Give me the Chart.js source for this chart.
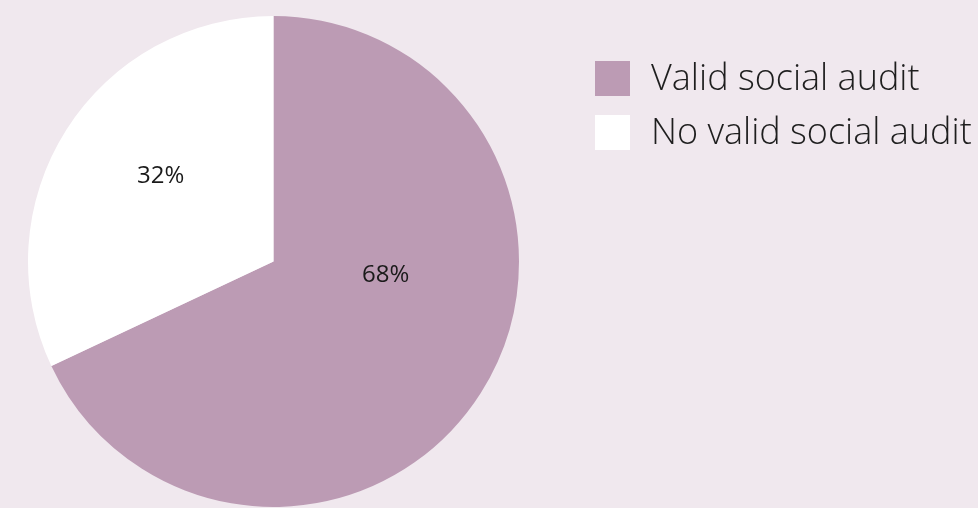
<!DOCTYPE html>
<html>
<head>
<meta charset="utf-8">
<script src="https://cdn.jsdelivr.net/npm/chart.js@4.4.0/dist/chart.umd.min.js"></script>
<style>
  html, body { margin: 0; padding: 0; background: #f0e8ee; }
  #wrap { position: relative; width: 978px; height: 508px; }
</style>
</head>
<body>
<div id="wrap"><canvas id="auditChart" width="978" height="508"></canvas></div>
<script>
const categories = ['Valid social audit', 'No valid social audit'];
const shares = [68, 32];
const sliceColors = ['#bc9bb4', '#ffffff'];

// where each percentage sits: angle (deg, clockwise from top) and distance as fraction of radius
const labelSpots = [
  { angle: 97, dist: 0.46 },
  { angle: 307, dist: 0.575 }
];

const FONT = '"Open Sans", Lato, sans-serif';

const sliceLabels = {
  id: 'sliceLabels',
  afterDatasetsDraw(chart) {
    const c = chart.ctx;
    const arcs = chart.getDatasetMeta(0).data;
    c.save();
    c.font = '24px ' + FONT;
    c.fillStyle = '#1a1a1a';
    c.textAlign = 'center';
    c.textBaseline = 'middle';
    arcs.forEach((arc, i) => {
      const a = labelSpots[i].angle * Math.PI / 180;
      const r = arc.outerRadius * labelSpots[i].dist;
      c.fillText(shares[i] + '%', arc.x + Math.sin(a) * r, arc.y - Math.cos(a) * r);
    });
    c.restore();
  }
};

const sideLegend = {
  id: 'sideLegend',
  afterDraw(chart) {
    const c = chart.ctx;
    c.save();
    c.font = '300 36px ' + FONT;
    c.textBaseline = 'alphabetic';
    categories.forEach((name, i) => {
      const y = 61 + i * 54;
      c.fillStyle = sliceColors[i];
      c.fillRect(595, y, 35, 35);
      c.fillStyle = '#1e1e1e';
      c.fillText(name, 651, y + 29);
    });
    c.restore();
  }
};

new Chart(document.getElementById('auditChart'), {
  type: 'pie',
  data: {
    labels: categories,
    datasets: [{
      data: shares,
      backgroundColor: sliceColors,
      borderWidth: 0
    }]
  },
  options: {
    responsive: false,
    animation: false,
    layout: { padding: { left: 28, top: 16, right: 459, bottom: 1 } },
    plugins: {
      legend: { display: false },
      tooltip: { enabled: false }
    }
  },
  plugins: [sliceLabels, sideLegend]
});
</script>
</body>
</html>
